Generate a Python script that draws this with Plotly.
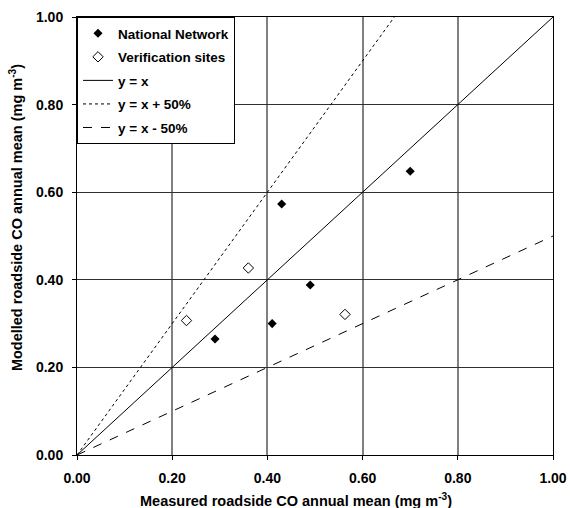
import plotly.graph_objects as go

# Measured vs modelled roadside CO annual means (mg m-3)
national_x = [0.29, 0.41, 0.43, 0.49, 0.70]
national_y = [0.265, 0.30, 0.573, 0.388, 0.648]
verification_x = [0.23, 0.36, 0.563]
verification_y = [0.307, 0.427, 0.321]

# reference lines: y = x, y = x + 50%, y = x - 50%
line_x = [0.0, 1.0]
line_factors = [1.0, 1.5, 0.5]
line_names = ["y = x", "y = x + 50%", "y = x - 50%"]
line_dashes = ["solid", "dot", "dash"]

tick_vals = [0.0, 0.2, 0.4, 0.6, 0.8, 1.0]

x_title = "Measured roadside CO annual mean (mg m<sup>-3</sup>)"
y_title = "Modelled roadside CO annual mean (mg m<sup>-3</sup>)"

FONT = "Arial, Liberation Sans, sans-serif"

fig = go.Figure()

fig.add_trace(go.Scatter(
    x=national_x, y=national_y, mode="markers", name="National Network",
    legendgroup="a",
    marker=dict(symbol="diamond", size=7, color="black"),
))
fig.add_trace(go.Scatter(
    x=verification_x, y=verification_y, mode="markers", name="Verification sites",
    legendgroup="b",
    marker=dict(symbol="diamond-open", size=8, color="black", line=dict(width=1)),
))
for i, (f, nm, ds) in enumerate(zip(line_factors, line_names, line_dashes)):
    fig.add_trace(go.Scatter(
        x=line_x, y=[v * f for v in line_x], mode="lines", name=nm,
        legendgroup="l%d" % i,
        line=dict(color="black", width=1, dash=ds),
    ))

axis_common = dict(
    range=[0, 1], tickvals=tick_vals, tickformat=".2f",
    showline=True, mirror=True, linecolor="black", linewidth=1,
    ticks="outside", ticklen=4, tickcolor="black",
    zeroline=False, automargin=False, ticklabelstandoff=6,
    tickfont=dict(family=FONT, size=14, color="black", weight="bold"),
)
fig.update_xaxes(**axis_common, showgrid=True, gridcolor="#808080", gridwidth=1.5)
fig.update_yaxes(**axis_common, showgrid=True, gridcolor="#303030", gridwidth=1.2)

# axis titles sit slightly off-centre in the original, so place them as annotations
title_font = dict(family=FONT, size=14.5, color="black", weight="bold")
fig.add_annotation(text=x_title, xref="paper", yref="paper", x=0.46, y=-0.103,
                   xanchor="center", yanchor="middle", showarrow=False, font=title_font)
fig.add_annotation(text=y_title, xref="paper", yref="paper", x=-0.128, y=0.541,
                   xanchor="center", yanchor="middle", textangle=-90,
                   showarrow=False, font=title_font)

fig.update_layout(
    width=570, height=508,
    margin=dict(l=77, r=17, t=17, b=53),
    plot_bgcolor="white", paper_bgcolor="white",
    font=dict(family=FONT, color="black"),
    legend=dict(
        x=0, y=1, xanchor="left", yanchor="top",
        bgcolor="white", bordercolor="black", borderwidth=1,
        font=dict(family=FONT, size=13.5, color="black", weight="bold"),
        traceorder="grouped", tracegroupgap=3,
    ),
)

# drop the browser's default 8px body margin so the figure fills the window
fig.write_html("out.html", config={"displayModeBar": False},
               post_script="document.body.style.margin='0px';")
